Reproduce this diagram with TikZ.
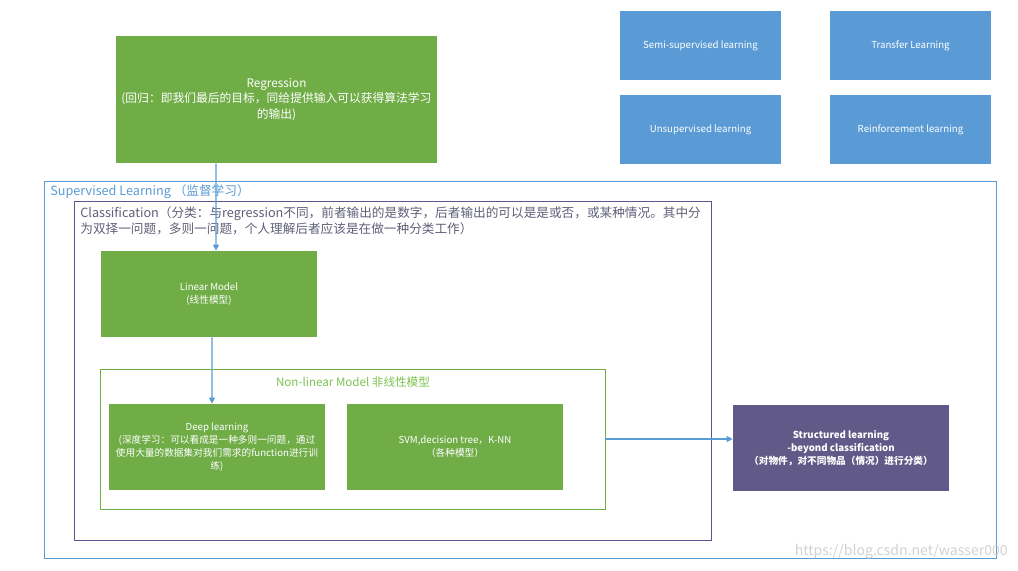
\documentclass[tikz,border=0pt]{standalone}
\usepackage{fontspec}
\setmainfont{Noto Sans CJK SC}
\usetikzlibrary{arrows.meta}

\definecolor{mlgreen}{HTML}{70AD47}
\definecolor{mlblue}{HTML}{5B9BD5}
\definecolor{mlpurple}{HTML}{615A88}
\definecolor{clsline}{HTML}{5E5590}
\definecolor{clstext}{HTML}{5F5F78}
\definecolor{nltext}{HTML}{7DC24E}

\begin{document}
\begin{tikzpicture}[x=0.02cm, y=-0.02cm,
    greenbox/.style={fill=mlgreen, text=white, inner sep=0pt, align=center,
        minimum width=4.32cm, minimum height=1.72cm, font=\fontsize{5.5}{7.5}\selectfont},
    bluebox/.style={fill=mlblue, text=white, inner sep=0pt, align=center,
        minimum width=3.22cm, minimum height=1.38cm, font=\fontsize{5.5}{7}\selectfont},
    frame/.style={draw, inner sep=0pt, line width=0.5pt},
    flow/.style={draw=mlblue, line width=0.6pt, -{Triangle[length=3.5pt,width=3.5pt]}}]
    \useasboundingbox (0,0) rectangle (1018,571);

    % aeussere Rahmen:
    \node[frame, draw=mlblue, minimum width=19.06cm, minimum height=7.54cm] (sup) at (520.5,369.5) {}; % supervised
    \node[frame, draw=clsline, minimum width=12.74cm, minimum height=6.78cm] (cls) at (392.5,370.5) {}; % classification
    \node[frame, draw=mlgreen, minimum width=10.1cm, minimum height=2.8cm] (nonlin) at (352.5,439) {}; % non-linear

    % Beschriftungen der Rahmen:
    \node[anchor=west, inner sep=0pt, text=mlblue, font=\fontsize{7.2}{9}\selectfont] (suplabel) at (50,192) {Supervised Learning （监督学习）};
    \node[anchor=north west, inner sep=0pt, align=left, text=clstext, font=\fontsize{7.2}{9.2}\selectfont] (clslabel) at (80,206)
        {Classification（分类：与regression不同，前者输出的是数字，后者输出的可以是是或否，或某种情况。其中分\\
         为双择一问题，多则一问题，个人理解后者应该是在做一种分类工作）};
    \node[inner sep=0pt, text=nltext, font=\fontsize{6.6}{8}\selectfont] (nllabel) at (353,382) {Non-linear Model 非线性模型};

    % Kaesten:
    \node[greenbox, minimum width=6.42cm, minimum height=2.54cm, font=\fontsize{6.7}{9}\selectfont] (regr) at (276.5,99.5)
        {Regression\\(回归：即我们最后的目标，同给提供输入可以获得算法学习\\的输出)};
    \node[greenbox] (lin) at (209,294) {Linear Model\\(线性模型)};
    \node[greenbox] (deep) at (217,447) {Deep learning\\(深度学习：可以看成是一种多则一问题，通过\\使用大量的数据集对我们需求的function进行训\\练)};
    \node[greenbox] (svm) at (455,447) {SVM,decision tree，K-NN\\（各种模型）};
    \node[greenbox, fill=mlpurple, font=\fontsize{5.5}{7.5}\selectfont\bfseries] (struct) at (841,448)
        {Structured learning\\-beyond classification\\（对物件，对不同物品（情况）进行分类）};

    % andere Lernarten:
    \node[bluebox] (semi) at (700.5,45.5) {Semi-supervised learning};
    \node[bluebox] (transfer) at (910.5,45.5) {Transfer Learning};
    \node[bluebox] (unsup) at (700.5,129.5) {Unsupervised learning};
    \node[bluebox] (reinf) at (910.5,129.5) {Reinforcement learning};

    % Pfeile:
    \draw[flow] ([xshift=-1.21cm]regr.south) -- ([xshift=0.14cm]lin.north);
    \draw[flow] ([xshift=0.06cm]lin.south) -- ([xshift=-0.1cm]deep.north);
    \draw[flow] (nonlin.east) -- (nonlin.east -| struct.west);

    % Wasserzeichen
    \node[anchor=east, inner sep=0pt, text=black!18, font=\fontsize{8}{9}\selectfont] (wm) at (1008,552) {https://blog.csdn.net/wasser000};
\end{tikzpicture}
\end{document}
